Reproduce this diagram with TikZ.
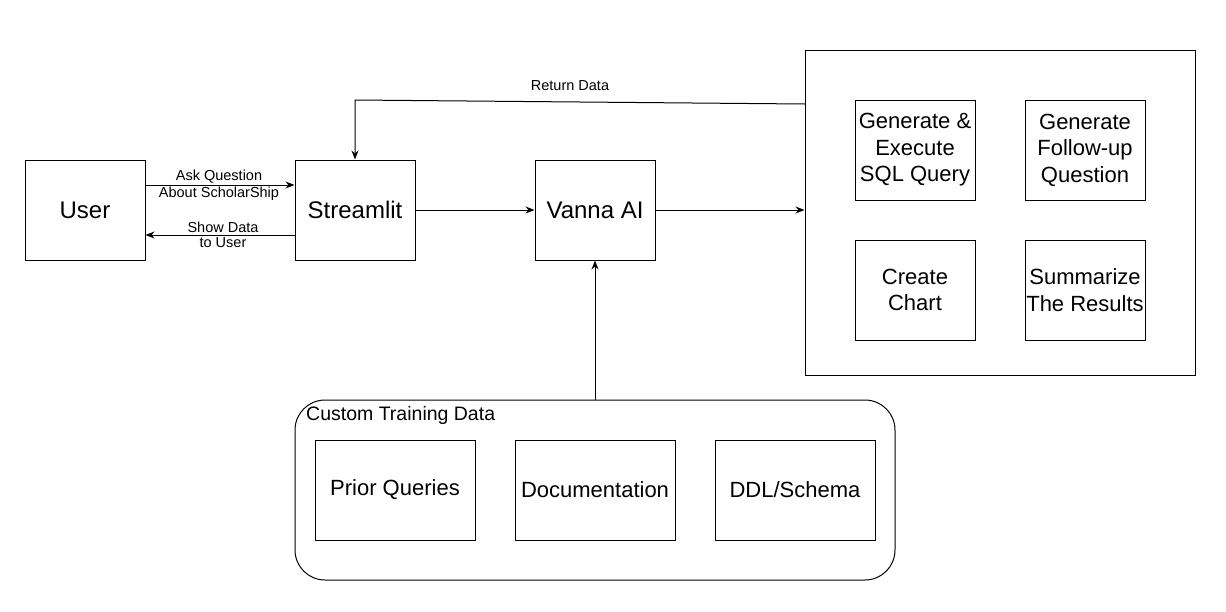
\documentclass[tikz,border=0pt]{standalone}
\usepackage{fontspec}
\setmainfont{Liberation Sans}
\usetikzlibrary{arrows.meta,calc}
\begin{document}
\begin{tikzpicture}[x=1pt,y=-1pt,
  box/.style={draw,line width=1pt,minimum width=120pt,minimum height=100pt,inner sep=0pt,align=center,font=\fontsize{22}{26.5}\selectfont},
  bigtxt/.style={box,font=\fontsize{24}{28}\selectfont},
  wbox/.style={box,minimum width=160pt},
  lbl/.style={font=\fontsize{14.5}{17}\selectfont,inner sep=1pt,align=center},
  arr/.style={line width=1pt,-{Stealth[length=9pt,width=7pt]}},
  ln/.style={line width=1pt}]
\useasboundingbox (0,0) rectangle (1226,611);
\node[bigtxt] (user) at (85,210) {User};
\node[bigtxt] (stream) at (355,210) {Streamlit};
\node[bigtxt] (vanna) at (595,210) {Vanna AI};
\node[draw,line width=1pt,minimum width=390pt,minimum height=325pt,inner sep=0pt] (big) at (1000,212.5) {};
\node[box] (gen) at (915,150) {Generate \&\\Execute\\SQL Query};
\node[box] (fol) at (1085,150) {Generate\\Follow-up\\Question};
\node[box] (chart) at (915,290) {Create\\Chart};
\node[box] (sum) at (1085,290) {Summarize\\The Results};
\node[draw,line width=1pt,rounded corners=30pt,minimum width=600pt,minimum height=180pt,inner sep=0pt] (ctd) at (595,490) {};
\node[anchor=west,inner sep=0pt,font=\fontsize{19.5}{23}\selectfont] (ctdl) at (306,415) {Custom Training Data};
\node[wbox] (prior) at (395,490) {Prior Queries};
\node[wbox] (doc) at (595,490) {Documentation};
\node[wbox] (ddl) at (795,490) {DDL/Schema};
% connectors
\coordinate (ua) at ($(user.east)+(0,-25)$);
\coordinate (ub) at ($(user.east)+(0,25)$);
\draw[arr] (ua) -- (ua -| stream.west);
\draw[arr] (ub -| stream.west) -- (ub);
\node[lbl,anchor=south] (l1) at (219,184) {Ask Question};
\node[lbl,anchor=north] (l2) at (219,186) {About ScholarShip};
\node[lbl,anchor=south] (l3) at (223,234) {Show Data};
\node[lbl,anchor=north] (l4) at (223,236) {to User};
\draw[arr] (stream.east) -- (vanna.west);
\draw[arr] (vanna.east) -- (vanna.east -| big.west);
\draw[arr] (ctd.north) -- (vanna.south);
\coordinate (r1) at (805,104);
\coordinate (r2) at (355,100);
\draw[arr] (r1) -- (r2) -- (stream.north);
\node[lbl] (rl) at (570,86) {Return Data};
\end{tikzpicture}
\end{document}
